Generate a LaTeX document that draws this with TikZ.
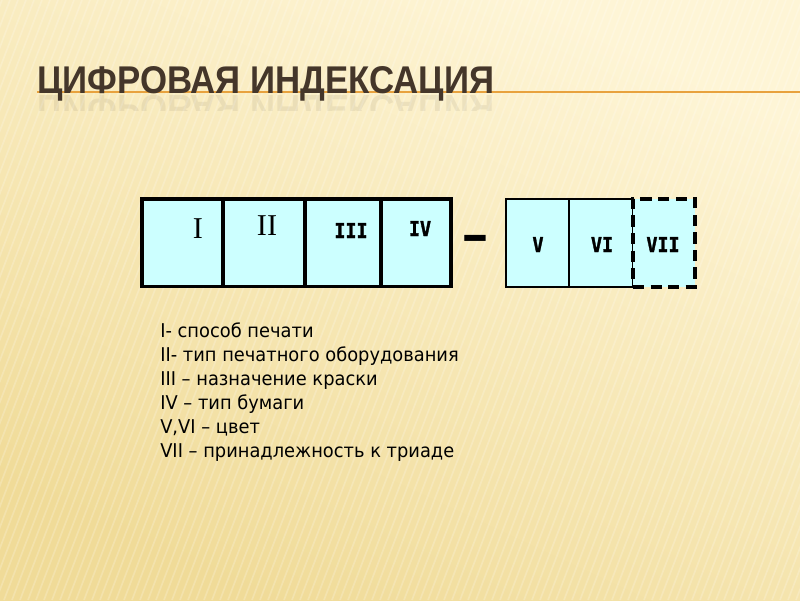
\documentclass[tikz,border=0pt]{standalone}
\usepackage{fontspec}
\setmainfont{DejaVu Sans}
\newfontfamily\titlefont[FakeStretch=0.9]{Liberation Sans}
\newfontfamily\romanfont{Liberation Serif}
\newfontfamily\listfont[FakeStretch=0.94]{DejaVu Sans}
\newfontfamily\cellfont[FakeStretch=0.9, BoldFeatures={FakeBold=1.6}]{DejaVu Sans Mono}
\usetikzlibrary{positioning}

\definecolor{paperlight}{HTML}{FEF5D6}
\definecolor{paperdark}{HTML}{F0DB98}
\definecolor{titlebrown}{HTML}{44362A}
\definecolor{ruleorange}{HTML}{E8A23E}
\definecolor{cellcyan}{HTML}{CCFFFF}

\tikzset{
  cell/.style={draw=black, line width=2.2pt, fill=cellcyan, anchor=north west,
    minimum height=2.18cm, inner sep=0pt, outer sep=0pt},
  romanlbl/.style={font=\romanfont\fontsize{21.5}{21.5}\selectfont, anchor=base},
  boldlbl/.style={font=\cellfont\bfseries\fontsize{14.5}{14.5}\selectfont, anchor=base},
  titletext/.style={anchor=base west, inner sep=0pt, text=titlebrown,
    font=\titlefont\bfseries\fontsize{27.5}{27.5}\selectfont},
}

\begin{document}
\begin{tikzpicture}[x=0.025cm, y=-0.025cm]
  % Paper background with faint stripes
  \shade[shading=axis, top color=paperlight, bottom color=paperdark, shading angle=-25]
    (0,0) rectangle (800,600);
  \useasboundingbox (0,0) rectangle (800,600);
  \begin{scope}
    \clip (0,0) rectangle (800,600);
    \foreach \sx in {-300,-292,...,820}
      \draw[white, opacity=0.2, line width=1.2pt] (\sx,600) -- ++(230,-600);
  \end{scope}

  % Title with rule and reflection
  \draw[ruleorange, line width=0.9pt] (37,92) -- (800,92);
  \node[titletext] (title) at (37,93) {ЦИФРОВАЯ ИНДЕКСАЦИЯ};
  \begin{scope}
    \clip (0,94) rectangle (800,110);
    \node[titletext, opacity=0.08, yscale=-1] (titlemirror) at (37,95) {ЦИФРОВАЯ ИНДЕКСАЦИЯ};
  \end{scope}

  % First group of cells
  \node[cell, minimum width=2.025cm] (cI) at (142,199) {};
  \node[cell, minimum width=2.05cm] (cII) at (223,199) {};
  \node[cell, minimum width=1.9cm] (cIII) at (305,199) {};
  \node[cell, minimum width=1.75cm] (cIV) at (381,199) {};
  \node[romanlbl] (lI) at (198,238) {I};
  \node[romanlbl] (lII) at (267,235) {II};
  \node[boldlbl] (lIII) at (351,238) {III};
  \node[boldlbl] (lIV) at (420,236) {IV};

  % Dash between groups
  \node[font=\bfseries\fontsize{17}{17}\selectfont, yscale=2, anchor=base, inner sep=0pt] (dash) at (475,251) {—};

  % Second group of cells
  \node[cell, line width=1.8pt, minimum width=1.575cm, minimum height=2.2cm] (cV) at (506,199) {};
  \node[cell, line width=1.8pt, minimum width=1.6cm, minimum height=2.2cm] (cVI) at (569,199) {};
  \node[cell, line width=2.6pt, dash pattern=on 8pt off 4.5pt, minimum width=1.55cm,
    minimum height=2.2cm] (cVII) at (633,199) {};
  \node[boldlbl] (lV) at (538,252) {V};
  \node[boldlbl] (lVI) at (602,252) {VI};
  \node[boldlbl] (lVII) at (663,252) {VII};

  % Legend
  \node[anchor=base west, align=left, inner sep=0pt,
    font=\listfont\fontsize{13.5}{17}\selectfont] (legend) at (160,457)
    {I- способ печати\\
     II- тип печатного оборудования\\
     III – назначение краски\\
     IV – тип бумаги\\
     V,VI – цвет\\
     VII – принадлежность к триаде};
\end{tikzpicture}
\end{document}
